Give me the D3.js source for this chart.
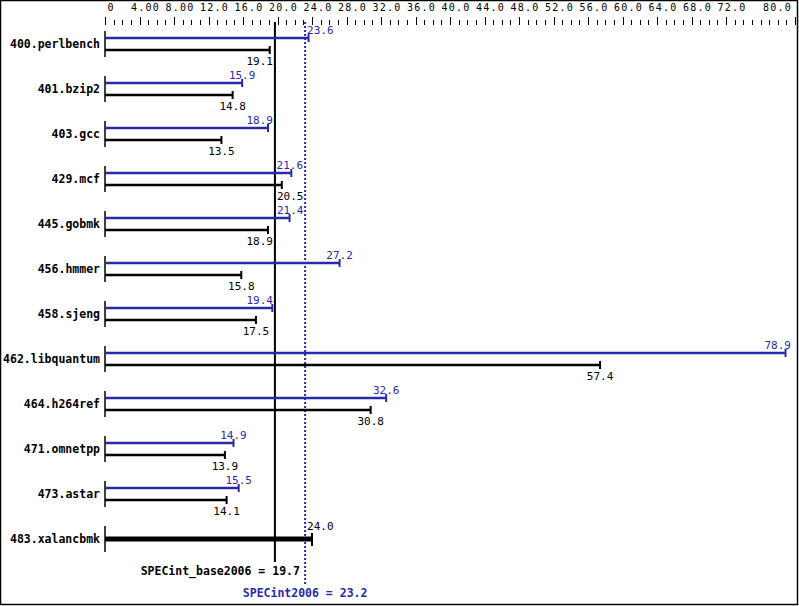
<!DOCTYPE html>
<html><head><meta charset="utf-8">
<script src="https://cdn.jsdelivr.net/npm/d3@7"></script>
<style>body{margin:0;background:#fff}svg{display:block}</style>
</head><body>
<script>
const benchmarks = ["400.perlbench","401.bzip2","403.gcc","429.mcf","445.gobmk","456.hmmer","458.sjeng","462.libquantum","464.h264ref","471.omnetpp","473.astar","483.xalancbmk"];
const baseValues = [19.1,14.8,13.5,20.5,18.9,15.8,17.5,57.4,30.8,13.9,14.1,24.0];
const peakValues = [23.6,15.9,18.9,21.6,21.4,27.2,19.4,78.9,32.6,14.9,15.5,null];
const tickValues = [0,4,8,12,16,20,24,28,32,36,40,44,48,52,56,60,64,68,72,80];
const tickLabels = ["0","4.00","8.00","12.0","16.0","20.0","24.0","28.0","32.0","36.0","40.0","44.0","48.0","52.0","56.0","60.0","64.0","68.0","72.0","80.0"];
const baseScore = 19.7, peakScore = 23.2;
const baseName = "SPECint_base2006", peakName = "SPECint2006";

const W = 799, H = 606;
const BLUE = "#2a2aa8";
const MONO = "'DejaVu Sans Mono', 'Liberation Mono', monospace";
const svg = d3.select("body").append("svg").attr("width", W).attr("height", H);
svg.append("rect").attr("x",0.5).attr("y",0.5).attr("width",W-2).attr("height",H-2)
  .attr("fill","#fff").attr("stroke","#000").attr("stroke-width",1.5);

const x = d3.scaleLinear().domain([0,80]).range([105,795]);
const y = d3.scalePoint().domain(benchmarks).range([44,539]);

// top axis
const axisG = svg.append("g");
axisG.selectAll("line").data(d3.range(0,81)).join("line")
  .attr("x1",d=>Math.round(x(d))+0.5).attr("x2",d=>Math.round(x(d))+0.5)
  .attr("y1",d=>tickValues.includes(d)?17:20).attr("y2",25)
  .attr("stroke","#000").attr("stroke-width",1);
axisG.selectAll("text").data(tickValues).join("text")
  .attr("x",(d,i)=> i===tickValues.length-1 ? x(d)-3 : x(d)+6)
  .attr("y",11)
  .attr("text-anchor",(d,i)=> i===tickValues.length-1 ? "end" : "middle")
  .attr("font-family",MONO).attr("font-size",10).attr("letter-spacing",1.2)
  .text((d,i)=>tickLabels[i]);

// score lines
const xb = x(baseScore), xp = x(peakScore);
svg.append("line").attr("x1",xb).attr("x2",xb).attr("y1",22).attr("y2",562)
  .attr("stroke","#000").attr("stroke-width",2);
svg.append("line").attr("x1",xp).attr("x2",xp).attr("y1",22).attr("y2",584)
  .attr("stroke",BLUE).attr("stroke-width",2).attr("stroke-dasharray","2,2");
svg.append("text").attr("x",xb+25).attr("y",575).attr("text-anchor","end")
  .attr("font-family",MONO).attr("font-weight","bold").attr("font-size",11.5)
  .text(`${baseName} = ${baseScore.toFixed(1)}`);
svg.append("text").attr("x",xp).attr("y",597).attr("text-anchor","middle")
  .attr("fill",BLUE).attr("font-family",MONO).attr("font-weight","bold").attr("font-size",11.5)
  .text(`${peakName} = ${peakScore.toFixed(1)}`);

// label placement avoiding vertical score lines
const VFS = 11, charW = VFS*0.602;
function labelPos(v, txt){
  const ex = x(v), half = txt.length*charW/2;
  let cx = ex;
  for (const lx of [xb, xp]) {
    if (cx-half < lx+1.5 && cx+half > lx-1.5) {
      cx = ex < lx ? lx-2-half : lx+2+half;
    }
  }
  if (cx+half > W-8) cx = W-8-half;
  return cx;
}

const rows = svg.append("g").selectAll("g").data(benchmarks).join("g");
rows.each(function(name,i){
  const g = d3.select(this);
  const c = y(name);
  g.append("line").attr("x1",x(0)).attr("x2",x(0)).attr("y1",c-13).attr("y2",c+13)
    .attr("stroke","#000").attr("stroke-width",1.5);
  g.append("text").attr("x",x(0)-5).attr("y",c+4).attr("text-anchor","end")
    .attr("font-family",MONO).attr("font-weight","bold").attr("font-size",11.5).text(name);
  const b = baseValues[i], p = peakValues[i];
  if (p === null) {
    g.append("line").attr("x1",x(0)).attr("x2",x(b)).attr("y1",c).attr("y2",c)
      .attr("stroke","#000").attr("stroke-width",5);
    g.append("line").attr("x1",x(b)).attr("x2",x(b)).attr("y1",c-6).attr("y2",c+7)
      .attr("stroke","#000").attr("stroke-width",2);
    const t = b.toFixed(1);
    g.append("text").attr("x",labelPos(b,t)).attr("y",c-9).attr("text-anchor","middle")
      .attr("font-family",MONO).attr("font-size",VFS).text(t);
    return;
  }
  const yp = c-6, yb = c+6;
  g.append("line").attr("x1",x(0)).attr("x2",x(p)).attr("y1",yp).attr("y2",yp)
    .attr("stroke",BLUE).attr("stroke-width",2.5);
  g.append("line").attr("x1",x(p)).attr("x2",x(p)).attr("y1",yp-4).attr("y2",yp+4)
    .attr("stroke",BLUE).attr("stroke-width",2);
  const tp = p.toFixed(1);
  g.append("text").attr("x",labelPos(p,tp)).attr("y",yp-4).attr("text-anchor","middle")
    .attr("fill",BLUE).attr("font-family",MONO).attr("font-size",VFS).text(tp);
  g.append("line").attr("x1",x(0)).attr("x2",x(b)).attr("y1",yb).attr("y2",yb)
    .attr("stroke","#000").attr("stroke-width",2.5);
  g.append("line").attr("x1",x(b)).attr("x2",x(b)).attr("y1",yb-4).attr("y2",yb+4)
    .attr("stroke","#000").attr("stroke-width",2);
  const tb = b.toFixed(1);
  g.append("text").attr("x",labelPos(b,tb)).attr("y",yb+15).attr("text-anchor","middle")
    .attr("font-family",MONO).attr("font-size",VFS).text(tb);
});
</script>
</body></html>
